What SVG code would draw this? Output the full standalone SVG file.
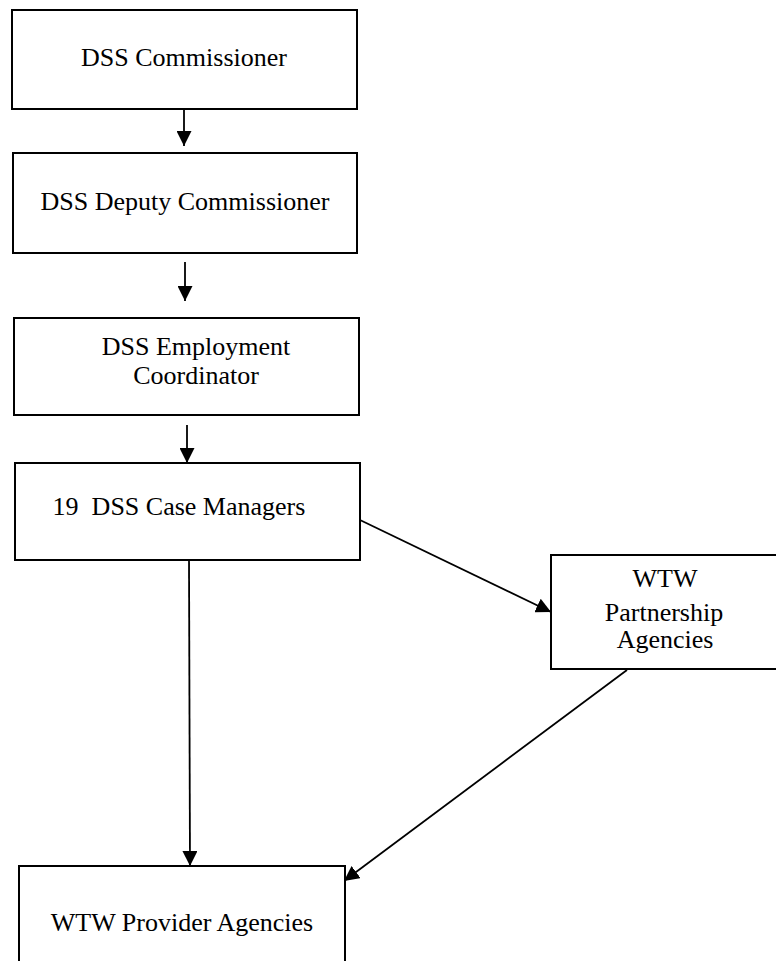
<svg xmlns="http://www.w3.org/2000/svg" width="776" height="961" viewBox="0 0 776 961">
<style>
.box{fill:#fff;stroke:#000;stroke-width:2}
.lbl{font-family:"Liberation Serif","Times New Roman",serif;font-size:26px;fill:#000;text-anchor:middle}
.conn{stroke:#000;stroke-width:1.8;fill:none;marker-end:url(#ah)}
</style>
<defs>
<marker id="ah" viewBox="0 0 10 10" refX="10" refY="5" markerWidth="15" markerHeight="15" markerUnits="userSpaceOnUse" orient="auto">
<path d="M0,0 L10,5 L0,10 Z" fill="#000"/>
</marker>
</defs>
<rect width="776" height="961" fill="#fff"/>
<g id="connectors">
<line class="conn" x1="184" y1="109" x2="184" y2="146"/>
<line class="conn" x1="185" y1="262" x2="185" y2="301"/>
<line class="conn" x1="187" y1="425" x2="187" y2="463"/>
<line class="conn" x1="189" y1="560" x2="190" y2="866"/>
<line class="conn" x1="360" y1="520" x2="551" y2="612"/>
<line class="conn" x1="627" y1="670" x2="344" y2="881"/>
</g>
<g id="n1">
<rect class="box" x="12" y="10" width="345" height="99"/>
<text class="lbl" x="184" y="66">DSS Commissioner</text>
</g>
<g id="n2">
<rect class="box" x="13" y="153" width="344" height="100"/>
<text class="lbl" x="185" y="210">DSS Deputy Commissioner</text>
</g>
<g id="n3">
<rect class="box" x="14" y="318" width="345" height="97"/>
<text class="lbl" x="196" y="355">DSS Employment</text>
<text class="lbl" x="196" y="384">Coordinator</text>
</g>
<g id="n4">
<rect class="box" x="15" y="463" width="345" height="97"/>
<text class="lbl" x="179" y="515" xml:space="preserve">19  DSS Case Managers</text>
</g>
<g id="n5">
<rect class="box" x="551" y="555" width="240" height="114"/>
<text class="lbl" x="665" y="587">WTW</text>
<text class="lbl" x="664" y="621">Partnership</text>
<text class="lbl" x="665" y="648">Agencies</text>
</g>
<g id="n6">
<rect class="box" x="19" y="866" width="326" height="110"/>
<text class="lbl" x="182" y="931">WTW Provider Agencies</text>
</g>
</svg>
